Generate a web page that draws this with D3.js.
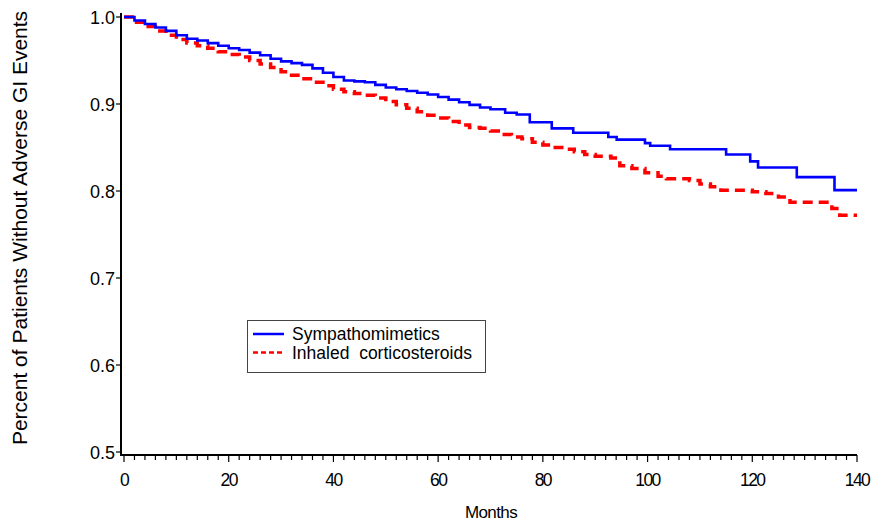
<!DOCTYPE html>
<html>
<head>
<meta charset="utf-8">
<script src="https://cdn.jsdelivr.net/npm/d3@7"></script>
<style>
body{margin:0;background:#fff}
text{font-family:"Liberation Sans",Arial,sans-serif;fill:#000}
</style>
</head>
<body>
<svg id="chart" width="876" height="523"></svg>
<script>
// survival steps: [month, proportion]
const sympathomimetics = [
    [0,1.0],[2,0.996],[4,0.992],[6,0.988],[8,0.984],[10,0.979],[12,0.975],[14,0.973],
    [16,0.970],[18,0.967],[20,0.964],[22,0.962],[24,0.959],[26,0.956],[28,0.952],[30,0.949],
    [32,0.947],[34,0.945],[36,0.941],[38,0.936],[40,0.931],[42,0.927],[44,0.926],[46,0.925],
    [48,0.922],[50,0.919],[52,0.917],[54,0.915],[56,0.913],[58,0.911],[60,0.908],[62,0.905],
    [64,0.902],[66,0.899],[68,0.896],[70,0.894],[72.8,0.890],[75,0.888],[77.5,0.879],
    [81.7,0.872],[85.8,0.867],[92.5,0.862],[94.1,0.859],[99.5,0.855],[100.5,0.852],
    [104.3,0.848],[115,0.842],[119.6,0.834],[121.1,0.827],[128.5,0.816],[135.7,0.801],[140,0.801]
]
const inhaledCorticosteroids = [
    [0,1.0],[2,0.994],[4,0.989],[6,0.984],[8,0.979],[10,0.974],[12,0.970],[14,0.967],
    [16,0.964],[18,0.960],[20,0.957],[22,0.954],[24,0.950],[26,0.946],[28,0.942],[30,0.937],
    [32,0.933],[34,0.929],[36,0.925],[38,0.921],[40,0.917],[42,0.914],[44,0.912],[46,0.910],
    [48,0.907],[50,0.903],[52,0.899],[54,0.895],[56,0.891],[58,0.887],[60,0.884],[62,0.880],
    [64,0.876],[66,0.873],[68,0.872],[70,0.869],[72,0.865],[74,0.862],[76,0.860],[78,0.856],
    [80,0.853],[82,0.850],[84,0.848],[86,0.845],[88,0.842],[90,0.840],[93,0.838],[94.7,0.829],
    [97,0.826],[99.5,0.821],[102,0.817],[103.6,0.814],[108,0.812],[110,0.808],[112,0.805],
    [114,0.801],[120,0.799],[122.6,0.797],[125,0.793],[127.2,0.787],[135.2,0.780],[136.7,0.772],[140,0.772]
]
const xTicks = [0,20,40,60,80,100,120,140]
const yTicks = [0.5,0.6,0.7,0.8,0.9,1.0]
const seriesNames = ["Sympathomimetics","Inhaled  corticosteroids"]

const svg = d3.select("#chart")

const x = d3.scaleLinear().domain([0,140]).range([124,857])
const y = d3.scaleLinear().domain([0.5,1.0]).range([452,17])
const baseY = 455, axisX = 121

// x axis
const xAxis = svg.append("g").attr("transform",`translate(0,${baseY})`)
xAxis.append("line")
    .attr("x1",axisX).attr("x2",x(140))
    .attr("stroke","#000").attr("stroke-width",2)
xAxis.selectAll("line.minor")
    .data(d3.range(0,141,2))
    .enter().append("line").attr("class","minor")
    .attr("x1",d=>x(d)).attr("x2",d=>x(d))
    .attr("y1",0).attr("y2",d=>d%20===0?7:5)
    .attr("stroke","#000").attr("stroke-width",1.2)
xAxis.selectAll("text")
    .data(xTicks)
    .enter().append("text")
    .attr("x",d=>x(d)).attr("y",31)
    .attr("text-anchor","middle")
    .attr("font-size",17.5).attr("letter-spacing",-1.6)
    .text(d=>d)

// y axis
const yAxis = svg.append("g")
yAxis.append("line")
    .attr("x1",axisX).attr("x2",axisX)
    .attr("y1",13).attr("y2",baseY+1)
    .attr("stroke","#000").attr("stroke-width",2)
yAxis.selectAll("line.tick")
    .data(yTicks)
    .enter().append("line").attr("class","tick")
    .attr("x1",axisX-5).attr("x2",axisX)
    .attr("y1",d=>y(d)).attr("y2",d=>y(d))
    .attr("stroke","#000").attr("stroke-width",1.2)
yAxis.selectAll("text")
    .data(yTicks)
    .enter().append("text")
    .attr("x",axisX-6).attr("y",d=>y(d)+6.5)
    .attr("text-anchor","end")
    .attr("font-size",18)
    .text(d=>d.toFixed(1))

// axis titles
svg.append("text")
    .attr("x",491).attr("y",518)
    .attr("text-anchor","middle")
    .attr("font-size",17).attr("letter-spacing",-0.6)
    .text("Months")
svg.append("text")
    .attr("transform","translate(27,228) rotate(-90)")
    .attr("text-anchor","middle")
    .attr("font-size",21)
    .text("Percent of Patients Without Adverse GI Events")

// curves
const line = d3.line()
    .x(d=>x(d[0]))
    .y(d=>y(d[1]))
    .curve(d3.curveStepAfter)

svg.append("path")
    .datum(inhaledCorticosteroids)
    .attr("d",line)
    .attr("fill","none")
    .attr("stroke","#ff0000")
    .attr("stroke-width",3.5)
    .attr("stroke-dasharray","10,6")

svg.append("path")
    .datum(sympathomimetics)
    .attr("d",line)
    .attr("fill","none")
    .attr("stroke","#0000ff")
    .attr("stroke-width",2.6)

// legend
const lg = svg.append("g")
lg.append("rect")
    .attr("x",247.5).attr("y",320.5)
    .attr("width",238).attr("height",52)
    .attr("fill","#fff").attr("stroke","#444").attr("stroke-width",1)
lg.selectAll("line")
    .data(seriesNames)
    .enter().append("line")
    .attr("x1",253).attr("x2",284)
    .attr("y1",(d,i)=>334+i*18.5).attr("y2",(d,i)=>334+i*18.5)
    .attr("stroke",(d,i)=>i?"#ff0000":"#0000ff")
    .attr("stroke-width",2.5)
    .attr("stroke-dasharray",(d,i)=>i?"5,3":null)
lg.selectAll("text")
    .data(seriesNames)
    .enter().append("text")
    .attr("x",292).attr("y",(d,i)=>340+i*18.5)
    .attr("font-size",17.5)
    .style("white-space","pre")
    .text(d=>d)
</script>
</body>
</html>
